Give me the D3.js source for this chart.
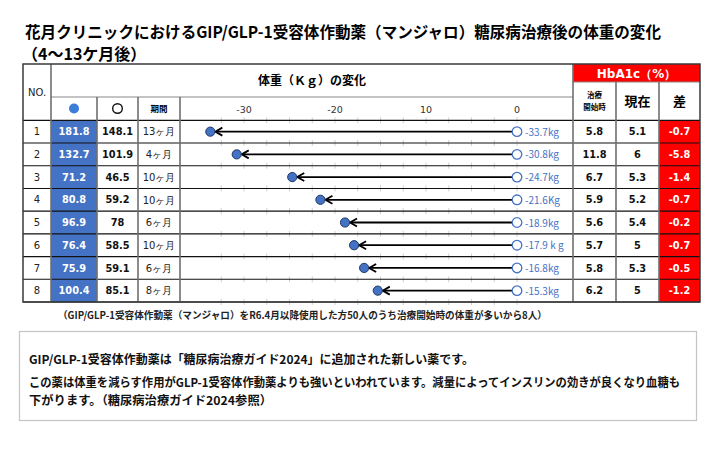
<!DOCTYPE html>
<html>
<head>
<meta charset="utf-8">
<script src="https://cdn.jsdelivr.net/npm/d3@7"></script>
<style>
  body { margin: 0; background: #fff; }
  text { font-family: "Noto Sans CJK JP", "Noto Sans", sans-serif; }
  .num { font-family: "DejaVu Sans", sans-serif; }
</style>
</head>
<body>
<div id="chart"></div>
<script>
const width = 720,
  height = 451;

// data
const patientNo = [1, 2, 3, 4, 5, 6, 7, 8];
const weightBefore = [181.8, 132.7, 71.2, 80.8, 96.9, 76.4, 75.9, 100.4];
const weightAfter = [148.1, 101.9, 46.5, 59.2, 78, 58.5, 59.1, 85.1];
const period = ["13ヶ月", "4ヶ月", "10ヶ月", "10ヶ月", "6ヶ月", "10ヶ月", "6ヶ月", "8ヶ月"];
const weightChange = [-33.7, -30.8, -24.7, -21.6, -18.9, -17.9, -16.8, -15.3];
const changeLabels = ["-33.7kg", "-30.8kg", "-24.7kg", "-21.6Kg", "-18.9kg", "-17.9 k g", "-16.8kg", "-15.3kg"];
const hbaStart = ["5.8", "11.8", "6.7", "5.9", "5.6", "5.7", "5.8", "6.2"];
const hbaNow = ["5.1", "6", "5.3", "5.2", "5.4", "5", "5.3", "5"];
const hbaDiff = ["-0.7", "-5.8", "-1.4", "-0.7", "-0.2", "-0.7", "-0.5", "-1.2"];
const tickValues = [-30, -20, -10, 0];
const tickLabels = ["-30", "-20", "10", "0"];

const blue = "#4472C4",
  red = "#FF0000";

const svg = d3
  .select("#chart")
  .append("svg")
  .attr("width", width)
  .attr("height", height)
  .style("display", "block");

svg.append("rect").attr("width", width).attr("height", height).attr("fill", "#fff");

// title
svg.append("text")
  .attr("x", 25).attr("y", 38)
  .attr("font-size", 16).attr("font-weight", "bold")
  .attr("textLength", 636).attr("lengthAdjust", "spacingAndGlyphs")
  .text("花月クリニックにおけるGIP/GLP-1受容体作動薬（マンジャロ）糖尿病治療後の体重の変化");
svg.append("text")
  .attr("x", 22).attr("y", 60)
  .attr("font-size", 16).attr("font-weight", "bold")
  .text("（4～13ケ月後）");

// table layout
const tLeft = 23, tRight = 700, tTop = 64, bodyTop = 120.3, tBottom = 302;
const col = { no: 23, before: 51, after: 97, period: 138, chart: 180, hba: 573, now: 616, diff: 659, end: 700 };

const y = d3.scaleBand().domain(patientNo).range([bodyTop, tBottom]);
const x = d3.scaleLinear().domain([-30, 0]).range([244, 517]);

// fills
svg.append("rect").attr("x", col.before).attr("y", bodyTop)
  .attr("width", col.after - col.before).attr("height", tBottom - bodyTop).attr("fill", blue);
svg.append("rect").attr("x", col.diff).attr("y", bodyTop)
  .attr("width", col.end - col.diff).attr("height", tBottom - bodyTop).attr("fill", red);
svg.append("rect").attr("x", col.hba).attr("y", tTop)
  .attr("width", col.end - col.hba).attr("height", 82 - tTop).attr("fill", red);

// faint minor ticks in chart area
const minor = d3.range(-32.5, 0.1, 2.5);
const rowLines = [bodyTop].concat(patientNo.map((d) => y(d) + y.bandwidth()));
rowLines.forEach(function (ly) {
  svg.append("g")
    .selectAll("line")
    .data(minor)
    .enter()
    .append("line")
    .attr("x1", (d) => x(d)).attr("x2", (d) => x(d))
    .attr("y1", ly - 3).attr("y2", ly + 3)
    .attr("stroke", "#d0d0d0").attr("stroke-width", 1);
});

// grid lines
const grid = svg.append("g");
rowLines.forEach(function (ly, i) {
  grid.append("line")
    .attr("x1", tLeft).attr("x2", tRight).attr("y1", ly).attr("y2", ly)
    .attr("stroke", "#111").attr("stroke-width", i === 0 ? 1.3 : 1.1);
});
grid.append("line").attr("x1", col.before).attr("x2", col.hba).attr("y1", 97).attr("y2", 97)
  .attr("stroke", "#888").attr("stroke-width", 1);
grid.append("line").attr("x1", col.hba).attr("x2", col.end).attr("y1", 82).attr("y2", 82)
  .attr("stroke", "#888").attr("stroke-width", 1);
[[col.before, tTop], [col.after, 97], [col.period, 97], [col.chart, 97], [col.hba, tTop], [col.now, 82], [col.diff, 82]]
  .forEach(function (v) {
    grid.append("line").attr("x1", v[0]).attr("x2", v[0]).attr("y1", v[1]).attr("y2", tBottom)
      .attr("stroke", "#6f6f6f").attr("stroke-width", 1.6);
  });
grid.append("rect").attr("x", tLeft).attr("y", tTop)
  .attr("width", tRight - tLeft).attr("height", tBottom - tTop)
  .attr("fill", "none").attr("stroke", "#3a3a3a").attr("stroke-width", 1.5);

// headers
svg.append("text").attr("x", 37).attr("y", 96).attr("text-anchor", "middle")
  .attr("class", "num").attr("font-size", 10).attr("fill", "#222").text("NO.");
svg.append("text").attr("x", (col.before + col.hba) / 2).attr("y", 85).attr("text-anchor", "middle")
  .attr("font-size", 12).attr("font-weight", "bold").text("体重（Ｋｇ）の変化");
svg.append("circle").attr("cx", 74).attr("cy", 108.5).attr("r", 5).attr("fill", "#3b7dd8");
svg.append("circle").attr("cx", 117.5).attr("cy", 108.5).attr("r", 4.8)
  .attr("fill", "#fff").attr("stroke", "#111").attr("stroke-width", 1.4);
svg.append("text").attr("x", 159).attr("y", 112).attr("text-anchor", "middle")
  .attr("font-size", 8.5).attr("font-weight", "bold").text("期間");
svg.append("text").attr("x", (col.hba + col.end) / 2).attr("y", 78).attr("text-anchor", "middle")
  .attr("class", "num").attr("font-size", 12).attr("font-weight", "bold").attr("fill", "#fff")
  .text("HbA1c（%）");
svg.append("text").attr("x", (col.hba + col.now) / 2).attr("y", 98).attr("text-anchor", "middle")
  .attr("font-size", 7.5).attr("font-weight", "bold").text("治療");
svg.append("text").attr("x", (col.hba + col.now) / 2).attr("y", 110).attr("text-anchor", "middle")
  .attr("font-size", 7.5).attr("font-weight", "bold").text("開始時");
svg.append("text").attr("x", (col.now + col.diff) / 2).attr("y", 106).attr("text-anchor", "middle")
  .attr("font-size", 13).attr("font-weight", "bold").text("現在");
svg.append("text").attr("x", (col.diff + col.end) / 2).attr("y", 106).attr("text-anchor", "middle")
  .attr("font-size", 13).attr("font-weight", "bold").text("差");

// axis tick labels
svg.append("g")
  .selectAll("text")
  .data(tickValues)
  .enter()
  .append("text")
  .attr("x", (d) => x(d))
  .attr("y", 113)
  .attr("text-anchor", "middle")
  .attr("class", "num")
  .attr("font-size", 9.5)
  .attr("fill", "#333")
  .text((d, i) => tickLabels[i]);

// table body
const rows = svg.append("g")
  .selectAll("g")
  .data(patientNo)
  .enter()
  .append("g")
  .attr("transform", (d) => `translate(0,${y(d) + y.bandwidth() / 2})`);

function cell(cx, values, opts) {
  rows.append("text")
    .attr("x", cx)
    .attr("y", opts.dy || 3.6)
    .attr("text-anchor", "middle")
    .attr("class", opts.cls || "num")
    .attr("font-size", opts.size || 9.8)
    .attr("font-weight", opts.bold ? "bold" : "normal")
    .attr("fill", opts.fill || "#111")
    .text((d, i) => values[i]);
}
cell(37, patientNo, { size: 10, fill: "#222" });
cell((col.before + col.after) / 2, weightBefore, { bold: true, fill: "#fff" });
cell((col.after + col.period) / 2, weightAfter, { bold: true });
cell((col.period + col.chart) / 2, period, { cls: "", size: 10, dy: 3.8, fill: "#222" });
cell((col.hba + col.now) / 2, hbaStart, { bold: true });
cell((col.now + col.diff) / 2, hbaNow, { bold: true });
cell((col.diff + col.end) / 2, hbaDiff, { bold: true, fill: "#fff" });

// arrows
rows.append("line")
  .attr("x1", x(0) - 5)
  .attr("x2", (d, i) => x(weightChange[i]) + 6)
  .attr("y1", 0).attr("y2", 0)
  .attr("stroke", "#000").attr("stroke-width", 1.8);
rows.append("path")
  .attr("d", (d, i) => {
    const tip = x(weightChange[i]) + 5;
    return `M${tip + 7},-4 L${tip},0 L${tip + 7},4`;
  })
  .attr("fill", "none").attr("stroke", "#000").attr("stroke-width", 1.8);
rows.append("circle")
  .attr("cx", (d, i) => x(weightChange[i]))
  .attr("cy", 0).attr("r", 4.6)
  .attr("fill", blue).attr("stroke", "#1f3864").attr("stroke-width", 1);
rows.append("circle")
  .attr("cx", x(0)).attr("cy", 0).attr("r", 4.8)
  .attr("fill", "#fff").attr("stroke", blue).attr("stroke-width", 1.3);
rows.append("text")
  .attr("x", x(0) + 8).attr("y", 4)
  .attr("font-family", "Liberation Sans, sans-serif")
  .attr("font-size", 10).attr("fill", blue)
  .text((d, i) => changeLabels[i]);

// footnote
svg.append("text")
  .attr("x", 58).attr("y", 319)
  .attr("font-size", 10).attr("font-weight", "bold").attr("fill", "#222")
  .attr("textLength", 489).attr("lengthAdjust", "spacingAndGlyphs")
  .text("（GIP/GLP-1受容体作動薬（マンジャロ）をR6.4月以降使用した方50人のうち治療開始時の体重が多いから8人）");

// note box
svg.append("rect").attr("x", 19.5).attr("y", 331.5).attr("width", 677).attr("height", 89)
  .attr("fill", "#fff").attr("stroke", "#c4c4c4").attr("stroke-width", 1.2);
const noteLines = [
  "GIP/GLP-1受容体作動薬は「糖尿病治療ガイド2024」に追加された新しい薬です。",
  "この薬は体重を減らす作用がGLP-1受容体作動薬よりも強いといわれています。減量によってインスリンの効きが良くなり血糖も",
  "下がります。（糖尿病治療ガイド2024参照）",
];
const noteWidths = [445, 651, 243];
svg.append("g")
  .selectAll("text")
  .data(noteLines)
  .enter()
  .append("text")
  .attr("x", 29)
  .attr("y", (d, i) => [364, 387, 405][i])
  .attr("font-size", 12)
  .attr("font-weight", "bold")
  .attr("fill", "#111")
  .attr("textLength", (d, i) => noteWidths[i])
  .attr("lengthAdjust", "spacingAndGlyphs")
  .text((d) => d);
</script>
</body>
</html>
